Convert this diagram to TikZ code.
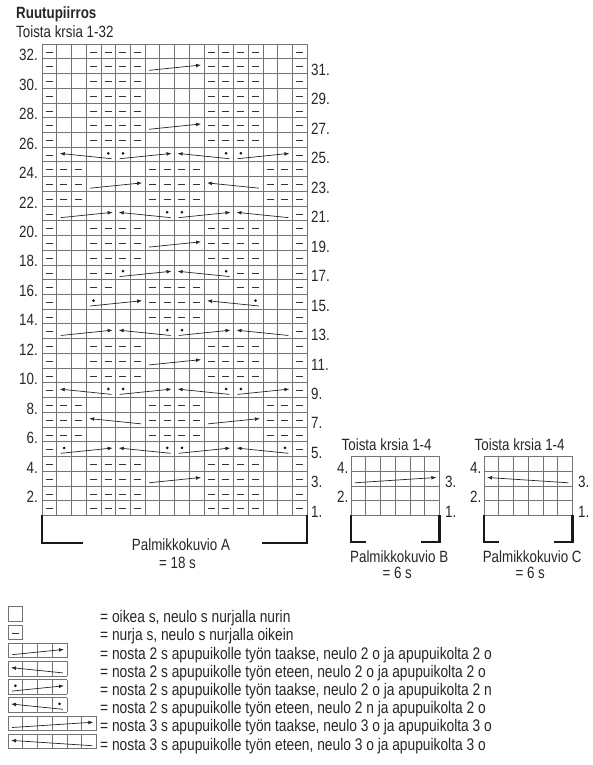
\documentclass[tikz,border=0pt]{standalone}
\usepackage{fontspec}
\setmainfont{Liberation Sans}[FakeStretch=0.82]
\usetikzlibrary{arrows.meta}

\tikzset{
    gridline/.style={draw=black!55, line width=0.8pt},
    purl/.style={draw=black!80, line width=0.8pt},
    cableline/.style={draw=black!85, line width=0.7pt, -{Latex[length=5pt, width=3.8pt]}},
    purldot/.style={fill=black!90},
    bracket/.style={draw=black!90, line width=2.4pt},
    lbl/.style={font=\fontsize{16.3}{18}\selectfont, text=black!85, inner sep=0pt},
    keytext/.style={lbl, font=\fontsize{16.8}{18}\selectfont},
}

\begin{document}
\begin{tikzpicture}[x=1pt, y=-1pt]
        \useasboundingbox (0,0) rectangle (592,765);
        \def\cw{14.73}
        \def\xa{42}\def\ya{44}
        % purl columns of the rows of Palmikkokuvio A
        \def\pB{1,4,5,6,7,12,13,14,15,18}
        \def\pA{1,2,3,8,9,10,11,16,17,18}
        \def\pF{1,4,5,8,9,10,11,14,15,18}
        \def\pD{1,8,9,10,11,18}
        \def\pG{1,4,5,14,15,18}
        \def\pE{1,18}
        \def\chartgrid(#1,#2,#3,#4){%
            \foreach \gi in {0,...,#3} \draw[gridline] ({#1+\gi*\cw},#2) -- ++(0,{#4*\cw});
            \foreach \gj in {0,...,#4} \draw[gridline] (#1,{#2+\gj*\cw}) -- ++({#3*\cw},0);
        }
        % x left, y top, cells, direction (1 right, -1 left), dot
        \def\cable(#1,#2,#3,#4,#5){%
            \pgfmathsetmacro\hw{#3*\cw/2}
            \draw[cableline] ({#1+\hw-(#4)*(\hw-4)},{#2+11.6}) -- ({#1+\hw+(#4)*(\hw-3)},{#2+6.3});
            \ifnum#5=1 \fill[purldot] ({#1+\hw-(#4)*(\hw-\cw/2)},{#2+6.2}) circle (1.5); \fi
        }

        \node[lbl, font=\bfseries\fontsize{16.3}{18}\selectfont, anchor=base west] (title) at (16,19) {Ruutupiirros};
        \node[lbl, anchor=base west] (repA) at (16,38) {Toista krsia 1-32};

        % Palmikkokuvio A
        \chartgrid(\xa,\ya,18,32)
        \foreach \r/\p in {32/\pB,31/\pB,30/\pB,29/\pB,28/\pB,27/\pB,26/\pB,25/\pE,
                           24/\pA,23/\pA,22/\pA,21/\pE,20/\pB,19/\pB,18/\pB,17/\pG,
                           16/\pF,15/\pD,14/\pD,13/\pE,12/\pB,11/\pB,10/\pB,9/\pE,
                           8/\pA,7/\pA,6/\pA,5/\pE,4/\pB,3/\pB,2/\pB,1/\pB}{
            \edef\purlcols{\p}
            \foreach \c in \purlcols
                \draw[purl] ({\xa+(\c-1)*\cw+3.7},{\ya+(32-\r)*\cw+8}) -- ++(7,0);
        }
        \foreach \r/\c/\dir/\dot in {31/8/1/0,27/8/1/0,19/8/1/0,11/8/1/0,3/8/1/0,
                                     25/2/-1/1,25/6/1/1,25/10/-1/1,25/14/1/1,
                                     9/2/-1/1,9/6/1/1,9/10/-1/1,9/14/1/1,
                                     23/4/1/0,23/12/-1/0,7/4/-1/0,7/12/1/0,
                                     21/2/1/0,21/6/-1/1,21/10/1/1,21/14/-1/0,
                                     13/2/1/0,13/6/-1/1,13/10/1/1,13/14/-1/0,
                                     17/6/1/1,17/10/-1/1,15/4/1/1,15/12/-1/1,
                                     5/2/1/1,5/6/-1/1,5/10/1/1,5/14/-1/1}{
            \cable({\xa+(\c-1)*\cw},{\ya+(32-\r)*\cw},4,\dir,\dot)
        }
        \foreach \r in {32,30,...,2}
            \node[lbl, anchor=base east] (la\r) at (38,{\ya+(33-\r)*\cw+2}) {\r.};
        \foreach \r in {31,29,...,1}
            \node[lbl, anchor=base west] (ra\r) at (311,{\ya+(33-\r)*\cw+2}) {\r.};
        \draw[bracket] (83,542.7) -| (\xa,{\ya+32*\cw});
        \draw[bracket] (262,542.7) -| ({\xa+18*\cw},{\ya+32*\cw});
        \node[lbl, anchor=base] (palA) at (181,550) {Palmikkokuvio A};
        \node[lbl, anchor=base] (sA) at (177.5,568) {= 18 s};

        % Palmikkokuvio B ja C
        \foreach \x/\dir/\nm in {351/1/B,484/-1/C}{
            \pgfmathsetmacro\yb{\ya+28*\cw}
            \chartgrid(\x,\yb,6,4)
            \cable(\x,{\yb+\cw},6,\dir,0)
            \node[lbl, anchor=base west] (rep\nm) at ({\x-9.5},450) {Toista krsia 1-4};
            \node[lbl, anchor=base east] (l4\nm) at ({\x-2.5},{\yb+\cw+2}) {4.};
            \node[lbl, anchor=base east] (l2\nm) at ({\x-2.5},{\yb+3*\cw+2}) {2.};
            \node[lbl, anchor=base west] (l3\nm) at ({\x+6*\cw+5.5},{\yb+2*\cw+2}) {3.};
            \node[lbl, anchor=base west] (l1\nm) at ({\x+6*\cw+5.5},{\yb+4*\cw+2}) {1.};
            \draw[bracket] ({\x+15},541.7) -| (\x,{\yb+4*\cw});
            \draw[bracket] ({\x+6*\cw-18},541.7) -| ({\x+6*\cw},{\yb+4*\cw});
            \node[lbl, anchor=base] (pal\nm) at ({\x+6*\cw/2+4},562) {Palmikkokuvio \nm};
            \node[lbl, anchor=base] (s\nm) at ({\x+6*\cw/2+2},578) {= 6 s};
        }

        % selitys
        \foreach \i/\n/\dir/\dot/\txt in {0/1/0/0/{= oikea s, neulo s nurjalla nurin},
                1/1/0/0/{= nurja s, neulo s nurjalla oikein},
                2/4/1/0/{= nosta 2 s apupuikolle työn taakse, neulo 2 o ja apupuikolta 2 o},
                3/4/-1/0/{= nosta 2 s apupuikolle työn eteen, neulo 2 o ja apupuikolta 2 o},
                4/4/1/1/{= nosta 2 s apupuikolle työn taakse, neulo 2 o ja apupuikolta 2 n},
                5/4/-1/1/{= nosta 2 s apupuikolle työn eteen, neulo 2 n ja apupuikolta 2 o},
                6/6/1/0/{= nosta 3 s apupuikolle työn taakse, neulo 3 o ja apupuikolta 3 o},
                7/6/-1/0/{= nosta 3 s apupuikolle työn eteen, neulo 3 o ja apupuikolta 3 o}}{
            \pgfmathsetmacro\yt{606.7+18.2*\i}
            \chartgrid(8,\yt,\n,1)
            \ifnum\dir=0 \else \cable(8,\yt,\n,\dir,\dot) \fi
            \node[keytext, anchor=base west] (key\i) at (100,{\yt+16}) {\txt};
        }
        \draw[purl] (11.7,{606.7+18.2+8}) -- ++(7,0);
\end{tikzpicture}
\end{document}
